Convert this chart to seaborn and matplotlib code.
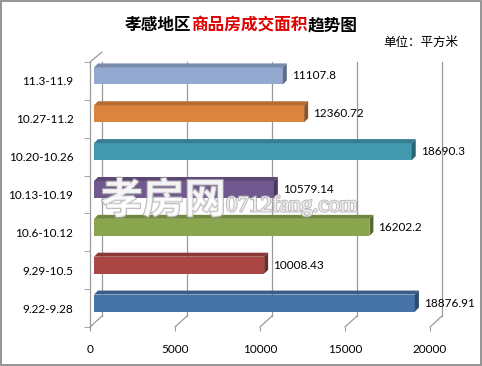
import seaborn as sns
import matplotlib.pyplot as plt
import matplotlib.colors as mc
from matplotlib.patches import Polygon, Rectangle
import matplotlib.patheffects as pe
import pandas as pd

# weekly periods (chronological) and area sold
periods = ["9.22-9.28", "9.29-10.5", "10.6-10.12", "10.13-10.19",
           "10.20-10.26", "10.27-11.2", "11.3-11.9"]
areas = [18876.91, 10008.43, 16202.2, 10579.14, 18690.3, 12360.72, 11107.8]
value_labels = ["18876.91", "10008.43", "16202.2", "10579.14",
                "18690.3", "12360.72", "11107.8"]
bar_colors = ["#4572A7", "#AA4643", "#89A54E", "#71588F",
              "#4198AF", "#DB843D", "#93A9CF"]
x_ticks = [0, 5000, 10000, 15000, 20000]

df = pd.DataFrame({"period": periods, "area": areas})
order = periods[::-1]
pal = dict(zip(periods, bar_colors))

W, H = 482, 366
fig = plt.figure(figsize=(W / 100, H / 100), dpi=100)
fig.patch.set_facecolor("white")
fig.patches.append(Rectangle((0.002, 0.003), 0.995, 0.994, transform=fig.transFigure,
                             fill=False, edgecolor="#8c8c8c", linewidth=1.3))

# axes box in pixels: x 90..430, y 62..327 (top-down)
ax_l, ax_r, ax_t, ax_b = 90, 430, 62, 327
ax = fig.add_axes([ax_l / W, (H - ax_b) / H, (ax_r - ax_l) / W, (ax_b - ax_t) / H])
ax.set_facecolor("none")

sns.barplot(data=df, y="period", x="area", hue="period", order=order,
            palette=pal, orient="h", width=0.45, legend=False, ax=ax,
            saturation=1, edgecolor="none", zorder=3)

ax.set_xlim(0, 20000)
ax.set_ylim(len(order) - 0.5, -0.5)

# pixel -> data conversion
px_x = 20000 / (ax_r - ax_l)
px_y = len(order) / (ax_b - ax_t)
shift_x, shift_y = 4 * px_x, -5 * px_y      # bars sit mid-depth
dep_x, dep_y = 4 * px_x, -4 * px_y          # 3d depth of each bar


def darker(c, f):
    r, g, b = mc.to_rgb(c)
    return (r * f, g * f, b * f)


for patch in list(ax.patches):
    idx = int(round(patch.get_y() + patch.get_height() / 2))
    cat = order[idx]
    col = pal[cat]
    x0 = patch.get_x() + shift_x
    y0 = patch.get_y() + shift_y
    w = patch.get_width()
    h = patch.get_height()
    patch.set_x(x0)
    patch.set_y(y0)
    x1 = x0 + w
    top = Polygon([(x0, y0), (x1, y0), (x1 + dep_x, y0 + dep_y), (x0 + dep_x, y0 + dep_y)],
                  closed=True, facecolor=darker(col, 0.82), edgecolor="none", zorder=3)
    side = Polygon([(x1, y0), (x1 + dep_x, y0 + dep_y), (x1 + dep_x, y0 + h + dep_y), (x1, y0 + h)],
                   closed=True, facecolor=darker(col, 0.65), edgecolor="none", zorder=3)
    ax.add_patch(top)
    ax.add_patch(side)
    lab = value_labels[periods.index(cat)]
    ax.text(x1 + 9 * px_x, y0 + h / 2, lab, va="center", ha="left",
            fontsize=8.5, family="Lato", color="black", zorder=5)

# back wall gridlines and 3d frame
back_x, back_y = 12 * px_x, -11 * px_y
yb, yt = len(order) - 0.5, -0.5
for t in x_ticks:
    ax.plot([t + back_x, t + back_x], [yb + back_y, yt], color="#9a9a9a",
            linewidth=0.9, zorder=1, clip_on=False)
    ax.plot([t, t + back_x], [yb, yb + back_y], color="#9a9a9a",
            linewidth=0.9, zorder=1, clip_on=False)
ax.plot([0, 0], [yb, yt], color="#9a9a9a", linewidth=0.9, clip_on=False, zorder=1)
ax.plot([0, back_x], [yt, yt + back_y * 0.9], color="#9a9a9a", linewidth=0.9, clip_on=False, zorder=1)

for s in ax.spines.values():
    s.set_visible(False)

ax.set_xticks(x_ticks)
ax.set_xticklabels([str(t) for t in x_ticks], fontsize=8.5, family="Lato")
ax.tick_params(axis="x", length=3, color="#9a9a9a", pad=9)
ax.set_yticks(range(len(order)))
ax.set_yticks([i + 0.5 for i in range(-1, len(order))], minor=True)
ax.set_yticklabels(order, fontsize=8.5, family="Lato")
ax.tick_params(axis="y", which="major", length=0, pad=12)
ax.tick_params(axis="y", which="minor", length=4, color="#9a9a9a")
ax.set_xlabel("")
ax.set_ylabel("")

# multi-colour title
cjk = ["Noto Sans CJK SC", "DejaVu Sans"]
parts = [("孝感地区", "black"), ("商品房成交面积", "#E00000"), ("趋势图", "black")]
fig.canvas.draw()
r = fig.canvas.get_renderer()
texts = []
for s, c in parts:
    texts.append(fig.text(0, 0, s, fontsize=12, fontweight="bold", family=cjk,
                          color=c, va="center", ha="left"))
widths = [t.get_window_extent(r).width for t in texts]
x = 241 - sum(widths) / 2
for t, wd in zip(texts, widths):
    t.set_position((x / W, 1 - 25 / H))
    x += wd

fig.text(458 / W, 1 - 42 / H, "单位：平方米", fontsize=9, family=cjk,
         ha="right", va="center", color="black")

# site watermark
stroke = [pe.withStroke(linewidth=1.5, foreground="#a8a8a8")]
fig.text(101 / W, 1 - 201 / H, "孝房网", fontsize=30, fontweight="bold", family=cjk,
         color="white", alpha=0.75, ha="left", va="center", path_effects=stroke, zorder=10)
fig.text(226 / W, 1 - 206 / H, "0712fang.com", fontsize=16.5, family="Liberation Serif",
         color="white", alpha=0.75, ha="left", va="center", path_effects=stroke, zorder=10)

fig.savefig("out.png", dpi=100)
